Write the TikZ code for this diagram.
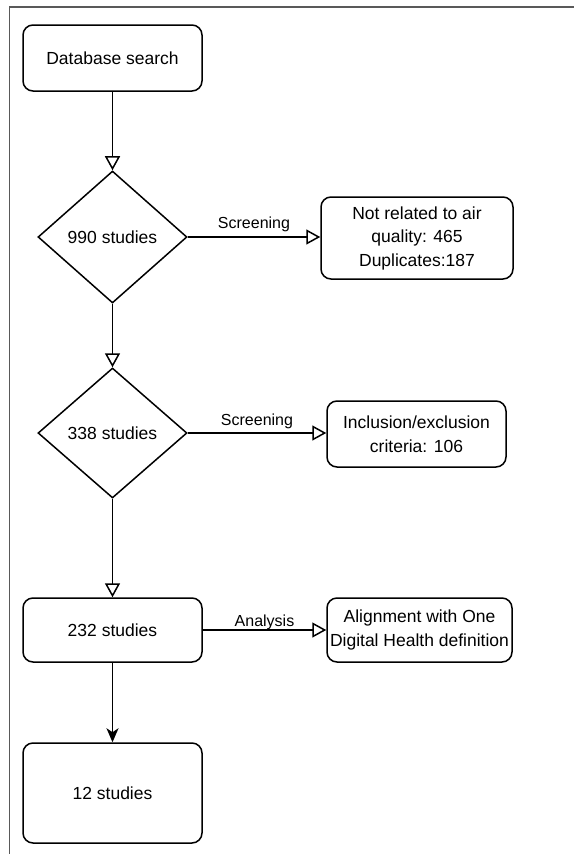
\documentclass[tikz,border=0pt]{standalone}
\usepackage{fontspec}
\setmainfont{Liberation Sans}
\usetikzlibrary{shapes.geometric,arrows.meta}
\begin{document}
\begin{tikzpicture}[x=1pt,y=-1pt,
  box/.style={draw, rounded corners=10pt, line width=1.5pt, align=center,
    inner sep=0pt, font=\fontsize{17.5}{23.5}\selectfont},
  dia/.style={draw, diamond, line width=1.5pt, inner sep=0pt,
    font=\fontsize{17.5}{23}\selectfont, minimum width=149pt},
  flow/.style={line width=1.5pt, -{Triangle[open,length=14pt,width=15pt]}},
  flowfull/.style={line width=1.5pt, -{Stealth[length=14pt,width=12pt,inset=4pt]}},
  lbl/.style={anchor=base, inner sep=0pt, font=\fontsize{16}{19}\selectfont},
  frame/.style={draw=black!65}
]
\useasboundingbox (0,0) rectangle (574,854);
\draw[frame, line width=1.8pt] (9,7) -- (574,7);
\draw[frame, line width=0.9pt] (9,7) -- (9,854);

\node[box, minimum width=179pt, minimum height=66pt] (db) at (112.5,58) {Database search};
\node[dia, minimum height=132pt] (d1) at (112.5,237) {990 studies};
\node[box, minimum width=192pt, minimum height=82pt] (n1) at (417,238) {Not related to air\\quality: 465\\Duplicates:187};
\node[dia, minimum height=130pt] (d2) at (112.5,433) {338 studies};
\node[box, minimum width=179pt, minimum height=66pt] (n2) at (416.5,434) {Inclusion/exclusion\\criteria: 106};
\node[box, minimum width=179pt, minimum height=64pt] (s232) at (112.5,630) {232 studies};
\node[box, minimum width=185pt, minimum height=64pt] (n3) at (419.5,630) {Alignment with One\\Digital Health definition};
\node[box, minimum width=179pt, minimum height=100pt] (s12) at (112.5,793) {12 studies};

\draw[flow] (db) -- (d1);
\draw[flow] (d1) -- (d2);
\draw[flow] (d2) -- (s232);
\draw[flowfull] (s232) -- (s12);

\draw[flow] (d1.east) -- (n1.west |- d1.east) node[lbl, midway, yshift=9pt] {Screening};
\draw[flow] (d2.east) -- (n2.west |- d2.east) node[lbl, midway, yshift=8pt] {Screening};
\draw[flow] (s232.east) -- (n3.west) node[lbl, midway, yshift=4pt] {Analysis};
\end{tikzpicture}
\end{document}
